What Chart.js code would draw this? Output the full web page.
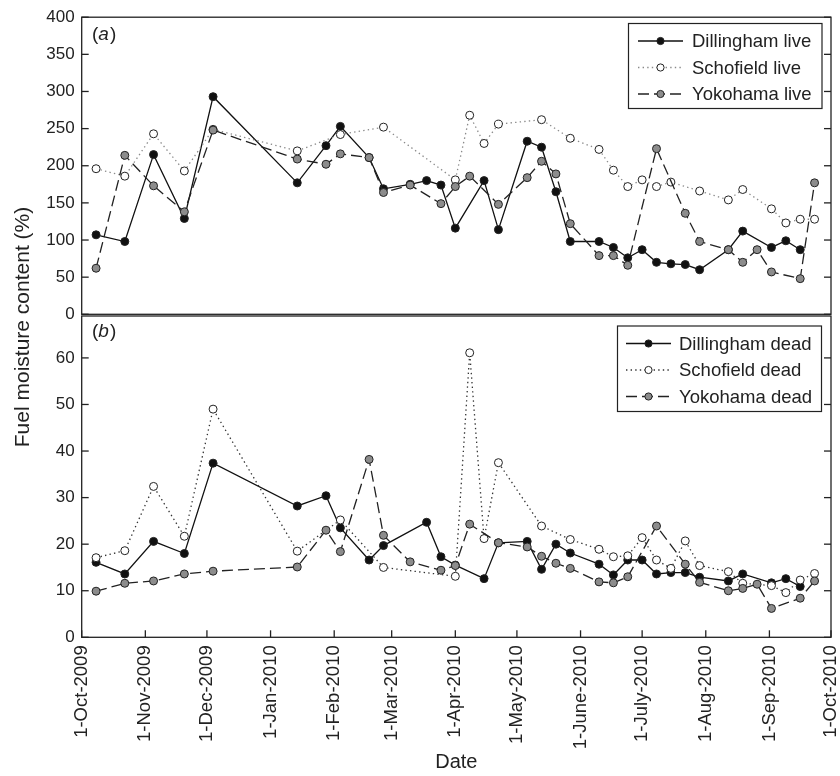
<!DOCTYPE html>
<html><head><meta charset="utf-8">
<script src="https://cdn.jsdelivr.net/npm/chart.js@4/dist/chart.umd.min.js"></script>
<style>
html,body{margin:0;padding:0;background:#fff;}
#wrap{position:relative;width:840px;height:776px;background:#fff;}
canvas{position:absolute;left:0;top:0;}
</style></head><body>
<div id="wrap"><canvas id="cTop" width="840" height="776"></canvas><canvas id="cBot" width="840" height="776"></canvas></div>
<script>
// ---------- data ----------
const tickDates = ['2009-10-01','2009-11-01','2009-12-01','2010-01-01','2010-02-01','2010-03-01','2010-04-01','2010-05-01','2010-06-01','2010-07-01','2010-08-01','2010-09-01','2010-10-01'];
const tickLabels = ['1-Oct-2009','1-Nov-2009','1-Dec-2009','1-Jan-2010','1-Feb-2010','1-Mar-2010','1-Apr-2010','1-May-2010','1-June-2010','1-July-2010','1-Aug-2010','1-Sep-2010','1-Oct-2010'];
const liveTicks = [0,50,100,150,200,250,300,350,400];
const deadTicks = [0,10,20,30,40,50,60];

// (a) live fuel moisture
const dillinghamLiveDates = ['2009-10-08','2009-10-22','2009-11-05','2009-11-20','2009-12-04','2010-01-14','2010-01-28','2010-02-04','2010-02-18','2010-02-25','2010-03-10','2010-03-18','2010-03-25','2010-04-01','2010-04-15','2010-04-22','2010-05-06','2010-05-13','2010-05-20','2010-05-27','2010-06-10','2010-06-17','2010-06-24','2010-07-01','2010-07-08','2010-07-15','2010-07-22','2010-07-29','2010-08-12','2010-08-19','2010-09-02','2010-09-09','2010-09-16'];
const dillinghamLive = [107,98,215,129,293,177,227,253,211,169,175,180,174,116,180,114,233,225,165,98,98,90,76,87,70,68,67,60,87,112,90,99,87];

const schofieldLiveDates = ['2009-10-08','2009-10-22','2009-11-05','2009-11-20','2009-12-04','2010-01-14','2010-02-04','2010-02-25','2010-04-01','2010-04-08','2010-04-15','2010-04-22','2010-05-13','2010-05-27','2010-06-10','2010-06-17','2010-06-24','2010-07-01','2010-07-08','2010-07-15','2010-07-29','2010-08-12','2010-08-19','2010-09-02','2010-09-09','2010-09-16','2010-09-23'];
const schofieldLive = [196,186,243,193,249,220,242,252,181,268,230,256,262,237,222,194,172,181,172,178,166,154,168,142,123,128,128];

const yokohamaLiveDates = ['2009-10-08','2009-10-22','2009-11-05','2009-11-20','2009-12-04','2010-01-14','2010-01-28','2010-02-04','2010-02-18','2010-02-25','2010-03-10','2010-03-25','2010-04-01','2010-04-08','2010-04-22','2010-05-06','2010-05-13','2010-05-20','2010-05-27','2010-06-10','2010-06-17','2010-06-24','2010-07-08','2010-07-22','2010-07-29','2010-08-12','2010-08-19','2010-08-26','2010-09-02','2010-09-16','2010-09-23'];
const yokohamaLive = [62,214,173,138,248,209,202,216,211,164,174,149,172,186,148,184,206,189,122,79,79,66,223,136,98,87,70,87,57,48,177];

// (b) dead fuel moisture
const dillinghamDeadDates = ['2009-10-08','2009-10-22','2009-11-05','2009-11-20','2009-12-04','2010-01-14','2010-01-28','2010-02-04','2010-02-18','2010-02-25','2010-03-18','2010-03-25','2010-04-01','2010-04-15','2010-04-22','2010-05-06','2010-05-13','2010-05-20','2010-05-27','2010-06-10','2010-06-17','2010-06-24','2010-07-01','2010-07-08','2010-07-15','2010-07-22','2010-07-29','2010-08-12','2010-08-19','2010-09-02','2010-09-09','2010-09-16'];
const dillinghamDead = [16.1,13.6,20.6,18.0,37.4,28.2,30.4,23.5,16.6,19.7,24.7,17.3,15.5,12.6,20.3,20.6,14.6,20.0,18.1,15.7,13.4,16.6,16.6,13.6,13.9,13.9,12.9,12.1,13.6,11.7,12.6,10.9];

const schofieldDeadDates = ['2009-10-08','2009-10-22','2009-11-05','2009-11-20','2009-12-04','2010-01-14','2010-02-04','2010-02-25','2010-04-01','2010-04-08','2010-04-15','2010-04-22','2010-05-13','2010-05-27','2010-06-10','2010-06-17','2010-06-24','2010-07-01','2010-07-08','2010-07-15','2010-07-22','2010-07-29','2010-08-12','2010-08-19','2010-09-02','2010-09-09','2010-09-16','2010-09-23'];
const schofieldDead = [17.1,18.6,32.4,21.7,49.0,18.5,25.2,15.0,13.1,61.1,21.2,37.5,23.9,21.0,18.9,17.3,17.5,21.4,16.6,14.8,20.7,15.4,14.1,11.6,11.1,9.6,12.3,13.7];

const yokohamaDeadDates = ['2009-10-08','2009-10-22','2009-11-05','2009-11-20','2009-12-04','2010-01-14','2010-01-28','2010-02-04','2010-02-18','2010-02-25','2010-03-10','2010-03-25','2010-04-01','2010-04-08','2010-04-22','2010-05-06','2010-05-13','2010-05-20','2010-05-27','2010-06-10','2010-06-17','2010-06-24','2010-07-08','2010-07-22','2010-07-29','2010-08-12','2010-08-19','2010-08-26','2010-09-02','2010-09-16','2010-09-23'];
const yokohamaDead = [9.9,11.6,12.1,13.6,14.2,15.1,23.0,18.4,38.2,21.9,16.2,14.4,15.4,24.3,20.3,19.4,17.4,15.9,14.8,11.9,11.7,13.0,23.9,15.7,11.8,10.0,10.5,11.4,6.2,8.4,12.1];

// ---------- helpers ----------
const FONT = '"Liberation Sans", Arial, Helvetica, sans-serif';
const INK = '#222';
const day0 = Date.UTC(2009, 9, 1);
const day = s => (Date.UTC(+s.slice(0,4), +s.slice(5,7)-1, +s.slice(8,10)) - day0) / 86400000;
const pts = (dates, vals) => dates.map((d, i) => ({x: day(d), y: vals[i]}));
const xTickVals = tickDates.map(day);

const styles = {
  dil: {borderColor:'#111', borderDash:[], pointBackgroundColor:'#111'},
  sch: {borderColor:'#8a8a8a', borderDash:[1.4,3.2], pointBackgroundColor:'#fff'},
  schB: {borderColor:'#333', borderDash:[1.4,3.2], pointBackgroundColor:'#fff'},
  yok: {borderColor:'#222', borderDash:[11,5], pointBackgroundColor:'#8c8c8c'}
};
function ds(label, data, st, order) {
  return Object.assign({
    label, data, order, tension: 0, borderWidth: 1.3, fill: false,
    pointRadius: 4, pointHoverRadius: 4, pointBorderWidth: 1, pointBorderColor: '#222',
    borderCapStyle: 'butt'
  }, st);
}

function panelPlugin(cfg) {
  return {
    id: 'panel' + cfg.tag,
    afterDraw(chart) {
      const {ctx, chartArea: a, scales} = chart;
      ctx.save();
      ctx.strokeStyle = INK; ctx.lineWidth = 1.3;
      const ln = (x1,y1,x2,y2) => { ctx.beginPath(); ctx.moveTo(x1,y1); ctx.lineTo(x2,y2); ctx.stroke(); };
      ctx.strokeRect(a.left, a.top, a.right - a.left, a.bottom - a.top);
      cfg.yTicks.forEach(v => {
        const p = scales.y.getPixelForValue(v);
        ln(a.left, p, a.left + 7, p);
        ln(a.right, p, a.right - 7, p);
      });
      if (cfg.xTicks) {
        xTickVals.forEach(v => {
          const p = scales.x.getPixelForValue(v);
          ln(p, a.bottom, p, a.bottom - 7);
        });
      }
      // panel label (a)/(b)
      ctx.fillStyle = INK;
      ctx.textBaseline = 'middle';
      ctx.textAlign = 'left';
      let x = cfg.labelX;
      ctx.font = '19px ' + FONT;
      ctx.fillText('(', x, cfg.labelY); x += ctx.measureText('(').width;
      ctx.font = 'italic 19px ' + FONT;
      ctx.fillText(cfg.letter, x, cfg.labelY); x += ctx.measureText(cfg.letter).width + 1;
      ctx.font = '19px ' + FONT;
      ctx.fillText(')', x, cfg.labelY);
      // legend
      const L = cfg.legend;
      ctx.fillStyle = '#fff';
      ctx.fillRect(L.x, L.y, L.w, L.h);
      ctx.lineWidth = 1.2;
      ctx.strokeRect(L.x, L.y, L.w, L.h);
      cfg.legendOrder.forEach((idx, r) => {
        const d = chart.data.datasets[idx];
        const cy = L.rowY[r];
        ctx.save();
        ctx.strokeStyle = d.borderColor; ctx.lineWidth = 1.3;
        ctx.setLineDash(d.borderDash || []);
        ln(L.lineX1, cy, L.lineX2, cy);
        ctx.restore();
        ctx.beginPath();
        ctx.arc((L.lineX1 + L.lineX2) / 2, cy, 3.6, 0, Math.PI * 2);
        ctx.fillStyle = d.pointBackgroundColor; ctx.fill();
        ctx.lineWidth = 1; ctx.strokeStyle = '#222'; ctx.stroke();
        ctx.fillStyle = INK;
        ctx.font = '18.5px ' + FONT;
        ctx.textAlign = 'left'; ctx.textBaseline = 'middle';
        ctx.fillText(d.label, L.textX, cy + 1);
      });
      if (cfg.yTitle) {
        ctx.save();
        ctx.translate(cfg.yTitle.x, cfg.yTitle.y);
        ctx.rotate(-Math.PI / 2);
        ctx.fillStyle = INK; ctx.font = '21px ' + FONT;
        ctx.textAlign = 'center'; ctx.textBaseline = 'middle';
        ctx.fillText(cfg.yTitle.text, 0, 0);
        ctx.restore();
      }
      ctx.restore();
    }
  };
}

const yTickFont = {family: FONT, size: 17};

// ---------- top panel ----------
new Chart(document.getElementById('cTop'), {
  type: 'line',
  data: { datasets: [
    ds('Dillingham live', pts(dillinghamLiveDates, dillinghamLive), styles.dil, 2),
    ds('Schofield live', pts(schofieldLiveDates, schofieldLive), styles.sch, 1),
    ds('Yokohama live', pts(yokohamaLiveDates, yokohamaLive), styles.yok, 0)
  ]},
  options: {
    responsive: false, animation: false, devicePixelRatio: 1,
    layout: { padding: {top: 15.3, right: 9, bottom: 776 - 314.3, left: 0} },
    plugins: { legend: {display: false}, tooltip: {enabled: false} },
    scales: {
      x: { type: 'linear', display: false, min: 0, max: 365 },
      y: { min: 0, max: 400,
        afterBuildTicks: s => { s.ticks = liveTicks.map(v => ({value: v})); },
        afterFit: s => { s.width = 81.7; },
        grid: {display: false, drawTicks: false}, border: {display: false},
        ticks: {font: yTickFont, color: INK, padding: 7} }
    }
  },
  plugins: [panelPlugin({tag:'a', letter:'a', yTicks: liveTicks, xTicks:false, labelX: 92, labelY: 35,
    legendOrder: [0,1,2],
    legend: {x: 628.5, y: 23.5, w: 193.5, h: 85, rowY: [41, 67.5, 94], lineX1: 638, lineX2: 683, textX: 692},
    yTitle: {x: 23, y: 327, text: 'Fuel moisture content (%)'}
  })]
});

// ---------- bottom panel ----------
new Chart(document.getElementById('cBot'), {
  type: 'line',
  data: { datasets: [
    ds('Dillingham dead', pts(dillinghamDeadDates, dillinghamDead), styles.dil, 2),
    ds('Schofield dead', pts(schofieldDeadDates, schofieldDead), styles.schB, 1),
    ds('Yokohama dead', pts(yokohamaDeadDates, yokohamaDead), styles.yok, 0)
  ]},
  options: {
    responsive: false, animation: false, devicePixelRatio: 1,
    layout: { padding: {top: 316, right: 9, bottom: 0, left: 0} },
    plugins: { legend: {display: false}, tooltip: {enabled: false} },
    scales: {
      x: { type: 'linear', min: 0, max: 365,
        afterBuildTicks: s => { s.ticks = xTickVals.map(v => ({value: v})); },
        afterFit: s => { s.height = 776 - 637.3; s.paddingLeft = 0; s.paddingRight = 0; },
        grid: {display: false, drawTicks: false}, border: {display: false},
        ticks: {font: {family: FONT, size: 18.5}, color: INK, padding: 8, minRotation: 90, maxRotation: 90, autoSkip: false,
          callback: (v, i) => tickLabels[i]},
        title: {display: true, text: 'Date', color: INK, font: {family: FONT, size: 20}, padding: {top: 4, bottom: 2}} },
      y: { min: 0, max: 69,
        afterBuildTicks: s => { s.ticks = deadTicks.map(v => ({value: v})); },
        afterFit: s => { s.width = 81.7; },
        grid: {display: false, drawTicks: false}, border: {display: false},
        ticks: {font: yTickFont, color: INK, padding: 7} }
    }
  },
  plugins: [panelPlugin({tag:'b', letter:'b', yTicks: deadTicks, xTicks:true, labelX: 92, labelY: 332,
    legendOrder: [0,1,2],
    legend: {x: 617.5, y: 326, w: 204, h: 85.5, rowY: [343.5, 370, 396.5], lineX1: 626, lineX2: 671, textX: 679}
  })]
});
</script>
</body></html>
